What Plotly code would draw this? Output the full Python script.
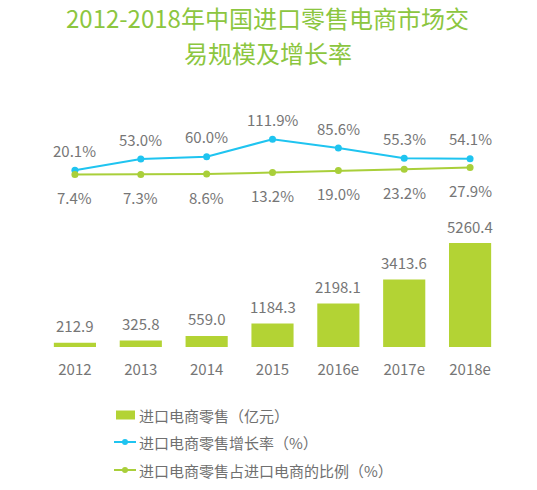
import plotly.graph_objects as go

categories = ["2012", "2013", "2014", "2015", "2016e", "2017e", "2018e"]
retail = [212.9, 325.8, 559.0, 1184.3, 2198.1, 3413.6, 5260.4]
growth = [20.1, 53.0, 60.0, 111.9, 85.6, 55.3, 54.1]
share = [7.4, 7.3, 8.6, 13.2, 19.0, 23.2, 27.9]
series_names = ["进口电商零售（亿元）", "进口电商零售增长率（%）", "进口电商零售占进口电商的比例（%）"]

FONT = "Noto Sans CJK SC, Noto Sans, sans-serif"
GRAY = "#767676"
BAR = "#b3d334"
BLUE = "#1fc4f0"
LIME = "#a9cf3a"
TITLE = "#8cc63f"

W, H = 537, 490
ML, MR, MT, MB = 42, 34, 80, 143
PW, PH = W - ML - MR, H - MT - MB


def px(x):
    return (x - ML) / PW


def py(y):
    return (H - MB - y) / PH


fig = go.Figure()
fig.add_trace(go.Bar(
    x=categories, y=retail, name=series_names[0],
    marker=dict(color=BAR, line=dict(width=0)), yaxis="y",
))
fig.add_trace(go.Scatter(
    x=categories, y=growth, name=series_names[1],
    mode="lines+markers", line=dict(color=BLUE, width=2),
    marker=dict(size=7, color=BLUE), yaxis="y2",
))
fig.add_trace(go.Scatter(
    x=categories, y=share, name=series_names[2],
    mode="lines+markers", line=dict(color=LIME, width=2),
    marker=dict(size=7, color=LIME), yaxis="y2",
))

lab_font = dict(size=15, color=GRAY, family=FONT)
annotations = []
for i, v in enumerate(retail):
    annotations.append(dict(x=i, y=v, xref="x", yref="y", text=f"{v:.1f}",
                            showarrow=False, yshift=17, font=lab_font))
for i, v in enumerate(growth):
    annotations.append(dict(x=i, y=v, xref="x", yref="y2", text=f"{v:.1f}%",
                            showarrow=False, yshift=20, font=lab_font))
for i, v in enumerate(share):
    annotations.append(dict(x=i, y=v, xref="x", yref="y2", text=f"{v:.1f}%",
                            showarrow=False, yshift=-23, font=lab_font))
annotations.append(dict(x=0.5, y=1, xref="paper", yref="paper", yanchor="middle",
                        xanchor="center", text="2012-2018年中国进口零售电商市场交",
                        showarrow=False, yshift=63, xshift=-5,
                        font=dict(size=24, color=TITLE, family=FONT)))
annotations.append(dict(x=0.5, y=1, xref="paper", yref="paper", yanchor="middle",
                        xanchor="center", text="易规模及增长率",
                        showarrow=False, yshift=28, xshift=-5,
                        font=dict(size=24, color=TITLE, family=FONT)))

# custom legend
rows = [415, 442, 470]
shapes = []
shapes.append(dict(type="rect", xref="paper", yref="paper",
                   x0=px(116), x1=px(135), y0=py(rows[0] - 4.5), y1=py(rows[0] + 4.5),
                   fillcolor=BAR, line=dict(width=0)))
for r, col in zip(rows[1:], [BLUE, LIME]):
    shapes.append(dict(type="line", xref="paper", yref="paper",
                       x0=px(114), x1=px(136), y0=py(r), y1=py(r),
                       line=dict(color=col, width=2)))
    shapes.append(dict(type="circle", xref="paper", yref="paper",
                       x0=px(122), x1=px(128), y0=py(r - 3), y1=py(r + 3),
                       fillcolor=col, line=dict(width=0)))
for r, name in zip(rows, series_names):
    annotations.append(dict(x=px(137), y=py(r), xref="paper", yref="paper",
                            xanchor="left", yanchor="middle", text=name,
                            showarrow=False,
                            font=dict(size=15, color="#707070", family=FONT)))

fig.update_layout(
    width=W, height=H,
    margin=dict(l=ML, r=MR, t=MT, b=MB),
    paper_bgcolor="white", plot_bgcolor="white",
    bargap=0.36,
    showlegend=False,
    xaxis=dict(type="category", range=[-0.5, 6.5], showgrid=False, showline=False,
               zeroline=False, ticks="", ticklabelstandoff=12,
               tickfont=dict(size=15, color=GRAY, family=FONT)),
    yaxis=dict(domain=[0, 0.4494], range=[0, 6070], visible=False, showgrid=False),
    yaxis2=dict(domain=[0.5506, 0.85], range=[-68, 168.6], visible=False, showgrid=False,
                anchor="x"),
    annotations=annotations,
    shapes=shapes,
)

fig.write_html("out.html", config={"displayModeBar": False},
               post_script="document.body.style.margin='0';")
